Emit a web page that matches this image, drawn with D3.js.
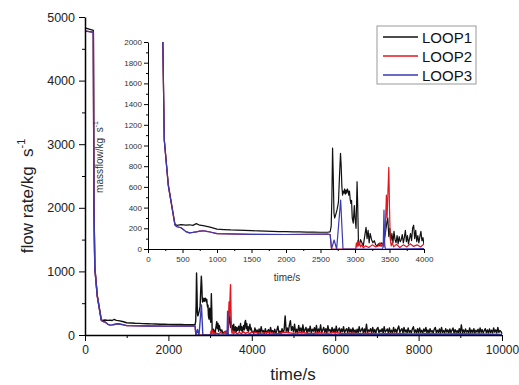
<!DOCTYPE html>
<html>
<head>
<meta charset="utf-8">
<script src="https://cdn.jsdelivr.net/npm/d3@7"></script>
<style>
  body { margin: 0; background: #fff; }
  svg { font-family: Arial, "Liberation Sans", sans-serif; }
  .axis path, .axis line { stroke: #000; }
</style>
</head>
<body>
<div id="chart"></div>
<script>
// LOOP1 mass flow [time s, flow kg/s], up to 4000 s
var loop1Head = [
  [0, 4830], [100, 4810], [200, 4790], [215, 2000], [236, 1060], [294, 625], [390, 242],
  [420, 228], [480, 236], [550, 230], [600, 234], [650, 228], [700, 245], [750, 230],
  [800, 226], [900, 212], [1000, 192], [1100, 188], [1200, 184], [1300, 182], [1400, 179],
  [1500, 177], [1600, 175], [1700, 172], [1800, 170], [1900, 168], [2000, 167], [2100, 166],
  [2200, 165], [2300, 164], [2400, 163], [2500, 162], [2600, 162], [2640, 165], [2655, 220],
  [2665, 500], [2675, 975], [2685, 700], [2695, 350], [2705, 300], [2720, 330], [2740, 380],
  [2760, 450], [2775, 700], [2790, 925], [2800, 800], [2810, 600], [2820, 520], [2830, 560],
  [2840, 540], [2850, 580], [2860, 530], [2870, 570], [2880, 540], [2890, 580], [2900, 560],
  [2910, 520], [2920, 560], [2930, 480], [2940, 440], [2950, 470], [2960, 300], [2975, 250],
  [2990, 420], [3000, 300], [3015, 200], [3030, 650], [3040, 400], [3050, 60], [3065, 40],
  [3080, 90], [3100, 60], [3120, 30], [3140, 120], [3160, 210], [3175, 100], [3190, 180],
  [3205, 60], [3220, 150], [3240, 90], [3260, 60], [3280, 80], [3300, 40], [3320, 30],
  [3340, 50], [3360, 30], [3380, 60], [3400, 40], [3420, 80], [3440, 150], [3460, 250],
  [3475, 300], [3490, 120], [3505, 200], [3520, 80], [3535, 150], [3550, 60], [3565, 170],
  [3580, 90], [3595, 60], [3610, 130], [3625, 50], [3640, 120], [3655, 70], [3670, 90],
  [3685, 140], [3700, 60], [3715, 110], [3730, 180], [3745, 70], [3760, 130], [3775, 50],
  [3790, 100], [3805, 150], [3820, 80], [3835, 200], [3850, 230], [3865, 100], [3880, 180],
  [3895, 70], [3910, 130], [3925, 60], [3940, 120], [3955, 170], [3970, 80], [3985, 110],
  [4000, 40]
];

// LOOP1 flow after 4000 s, read every 25 s (4025 ... 10000)
var loop1TailTime = d3.range(4025, 10001, 25);
var loop1TailFlow = [
  60, 25, 110, 40, 80, 20, 95, 35, 130, 45, 70, 20, 100, 30, 60, 85, 25, 120, 40, 70,
  30, 90, 20, 75, 140, 35, 60, 25, 100, 45, 80, 300, 60, 110, 40, 150, 225, 70, 130, 50,
  170, 40, 90, 30, 150, 60, 110, 35, 160, 45, 80, 120, 30, 100, 50, 140, 35, 90, 60, 115,
  40, 150, 30, 95, 55, 160, 35, 80, 120, 40, 100, 30, 145, 60, 85, 35, 120, 45, 95, 30,
  140, 40, 80, 110, 30, 95, 50, 130, 35, 75, 100, 30, 120, 45, 90, 35, 110, 40, 80, 30,
  90, 35, 130, 50, 75, 110, 30, 95, 40, 170, 35, 80, 60, 100, 30, 120, 40, 85, 30, 95,
  120, 35, 80, 50, 100, 30, 130, 45, 70, 95, 30, 110, 40, 75, 30, 120, 45, 90, 35, 100,
  140, 40, 75, 100, 30, 120, 45, 80, 35, 110, 40, 70, 30, 95, 130, 40, 80, 30, 100, 35,
  110, 40, 75, 30, 95, 50, 120, 35, 80, 30, 100, 45, 70, 30, 90, 120, 35, 75, 40, 95,
  30, 120, 40, 70, 30, 100, 45, 80, 30, 95, 35, 75, 110, 30, 85, 40, 70, 30, 100, 35,
  160, 40, 80, 30, 95, 45, 70, 30, 110, 35, 80, 40, 100, 30, 75, 45, 90, 30, 110, 40,
  85, 30, 70, 100, 35, 80, 30, 95, 40, 75, 30, 110, 45, 80, 30, 120, 40, 70, 55, 20
];

var loop1 = loop1Head.concat(loop1TailTime.map(function(t, i) {
  return [t, loop1TailFlow[i]];
}));

// LOOP2
var loop2 = [
  [0, 4780], [100, 4770], [200, 4760], [215, 2000], [236, 1050], [294, 612], [390, 232],
  [420, 215], [480, 205], [550, 168], [600, 156], [650, 160], [700, 166], [750, 172],
  [800, 176], [850, 170], [900, 164], [1000, 148], [1500, 142], [2000, 140], [2600, 145],
  [2640, 140], [2660, 0], [3010, 0], [3020, 60], [3030, 20], [3040, 80], [3050, 30],
  [3060, 70], [3080, 20], [3100, 40], [3120, 10], [3150, 30], [3200, 15], [3250, 40],
  [3300, 20], [3340, 30], [3360, 60], [3380, 25], [3400, 50], [3420, 20], [3440, 200],
  [3455, 520], [3465, 300], [3480, 600], [3490, 790], [3500, 400], [3510, 100], [3525, 30],
  [3540, 60], [3560, 20], [3600, 45], [3650, 15], [3700, 40], [3750, 20], [3800, 50],
  [3850, 25], [3900, 40], [3950, 20], [4000, 50], [4200, 25], [4400, 40], [4600, 20],
  [4800, 45], [5000, 25], [5200, 40], [5400, 20], [5600, 35], [5800, 25], [6000, 40],
  [6200, 20], [6400, 30], [6600, 20], [6800, 30], [7000, 15], [7400, 25], [7800, 15],
  [8200, 20], [8600, 15], [9000, 20], [9500, 15], [10000, 10]
];

// LOOP3
var loop3 = [
  [0, 4780], [100, 4770], [200, 4760], [215, 2000], [236, 1050], [294, 612], [390, 232],
  [420, 215], [480, 205], [550, 168], [600, 156], [650, 160], [700, 166], [750, 172],
  [800, 176], [850, 170], [900, 164], [1000, 148], [1500, 142], [2000, 140], [2600, 145],
  [2640, 140], [2660, 0], [2697, 87], [2734, 0], [2792, 473], [2826, 0], [3400, 0],
  [3410, 50], [3420, 375], [3430, 50], [3440, 0], [4000, 5], [5000, 10], [6000, 5],
  [7000, 10], [8000, 5], [9000, 10], [10000, 5]
];

var names = ["LOOP1", "LOOP2", "LOOP3"];
var colors = ["#111111", "#e3161e", "#3a3ab4"];
var series = [loop1, loop2, loop3];

var mainXTicks = [0, 2000, 4000, 6000, 8000, 10000];
var mainYTicks = [0, 1000, 2000, 3000, 4000, 5000];
var insetXTicks = [0, 500, 1000, 1500, 2000, 2500, 3000, 3500, 4000];
var insetYTicks = [0, 200, 400, 600, 800, 1000, 1200, 1400, 1600, 1800, 2000];

var width = 519;
var height = 385;
var fmt = d3.format("d");

var svg = d3.select("#chart").append("svg")
  .attr("width", width)
  .attr("height", height);

// main chart
var x = d3.scaleLinear().domain([0, 10000]).range([85, 502]);
var y = d3.scaleLinear().domain([0, 5000]).range([335, 17]);

var line = d3.line()
  .x(function(d) { return x(d[0]); })
  .y(function(d) { return y(d[1]); });

svg.selectAll(".main-line")
  .data(series)
  .enter()
  .append("path")
  .attr("class", "main-line")
  .attr("fill", "none")
  .attr("stroke", function(d, i) { return colors[i]; })
  .attr("stroke-width", 1.4)
  .attr("stroke-linejoin", "round")
  .attr("d", line);

var xMinor = svg.append("g")
  .attr("class", "axis")
  .attr("transform", "translate(0,335)")
  .call(d3.axisBottom(x).tickValues([1000, 3000, 5000, 7000, 9000]).tickSize(3).tickFormat(""));
xMinor.select(".domain").remove();
var xAxis = svg.append("g")
  .attr("class", "axis")
  .attr("transform", "translate(0,335)")
  .call(d3.axisBottom(x).tickValues(mainXTicks).tickFormat(fmt).tickSize(6).tickSizeOuter(0).tickPadding(4));
xAxis.select(".domain").attr("stroke-width", 1.5);
xAxis.selectAll("text").attr("font-size", 12).attr("fill", "#222");

var yMinor = svg.append("g")
  .attr("class", "axis")
  .attr("transform", "translate(85,0)")
  .call(d3.axisLeft(y).tickValues([500, 1500, 2500, 3500, 4500]).tickSize(3).tickFormat(""));
yMinor.select(".domain").remove();
var yAxis = svg.append("g")
  .attr("class", "axis")
  .attr("transform", "translate(85,0)")
  .call(d3.axisLeft(y).tickValues(mainYTicks).tickFormat(fmt).tickSize(6).tickSizeOuter(0).tickPadding(4));
yAxis.select(".domain").attr("stroke-width", 1.5);
yAxis.selectAll("text").attr("font-size", 12.5).attr("fill", "#222");

svg.append("text")
  .attr("x", 293)
  .attr("y", 380)
  .attr("text-anchor", "middle")
  .attr("font-size", 17)
  .attr("fill", "#222")
  .text("time/s");

var yLabel = svg.append("text")
  .attr("transform", "translate(33,196) rotate(-90)")
  .attr("text-anchor", "middle")
  .attr("font-size", 17)
  .attr("fill", "#222");
yLabel.append("tspan").text("flow rate/kg\u00a0\u00a0s");
yLabel.append("tspan").attr("font-size", 11).attr("dy", "-0.7em").text("-1");

// inset chart
var ix = d3.scaleLinear().domain([0, 4000]).range([148, 424]);
var iy = d3.scaleLinear().domain([0, 2000]).range([249, 42]);

svg.append("clipPath")
  .attr("id", "inset-clip")
  .append("rect")
  .attr("x", 148)
  .attr("y", 42)
  .attr("width", 276)
  .attr("height", 207);

var insetLine = d3.line()
  .x(function(d) { return ix(d[0]); })
  .y(function(d) { return iy(d[1]); });

svg.append("g")
  .attr("clip-path", "url(#inset-clip)")
  .selectAll("path")
  .data(series)
  .enter()
  .append("path")
  .attr("fill", "none")
  .attr("stroke", function(d, i) { return colors[i]; })
  .attr("stroke-width", 1.2)
  .attr("stroke-linejoin", "round")
  .attr("d", function(d) {
    return insetLine(d.filter(function(p) { return p[0] <= 4000; }));
  });

var ixMinor = svg.append("g")
  .attr("class", "axis")
  .attr("transform", "translate(0,249)")
  .call(d3.axisBottom(ix).tickValues([250, 750, 1250, 1750, 2250, 2750, 3250, 3750]).tickSize(2).tickFormat(""));
ixMinor.select(".domain").remove();
var ixAxis = svg.append("g")
  .attr("class", "axis")
  .attr("transform", "translate(0,249)")
  .call(d3.axisBottom(ix).tickValues(insetXTicks).tickFormat(fmt).tickSize(4).tickSizeOuter(0).tickPadding(3));
ixAxis.selectAll("text").attr("font-size", 8).attr("fill", "#333");

var iyMinor = svg.append("g")
  .attr("class", "axis")
  .attr("transform", "translate(148,0)")
  .call(d3.axisLeft(iy).tickValues(d3.range(100, 2000, 200)).tickSize(2).tickFormat(""));
iyMinor.select(".domain").remove();
var iyAxis = svg.append("g")
  .attr("class", "axis")
  .attr("transform", "translate(148,0)")
  .call(d3.axisLeft(iy).tickValues(insetYTicks).tickFormat(fmt).tickSize(4).tickSizeOuter(0).tickPadding(2));
iyAxis.selectAll("text").attr("font-size", 8).attr("fill", "#333");

svg.append("text")
  .attr("x", 287)
  .attr("y", 281)
  .attr("text-anchor", "middle")
  .attr("font-size", 10)
  .attr("fill", "#333")
  .text("time/s");

var iyLabel = svg.append("text")
  .attr("transform", "translate(103,157) rotate(-90)")
  .attr("text-anchor", "middle")
  .attr("font-size", 10)
  .attr("fill", "#333");
iyLabel.append("tspan").text("massflow/kg\u00a0\u00a0s");
iyLabel.append("tspan").attr("font-size", 7).attr("dy", "-0.7em").text("-1");

// legend
var legend = svg.append("g").attr("transform", "translate(377,26)");
legend.append("rect")
  .attr("width", 99)
  .attr("height", 58)
  .attr("fill", "#fff")
  .attr("stroke", "#999")
  .attr("stroke-width", 1);

var legendItem = legend.selectAll(".legend-item")
  .data(names)
  .enter()
  .append("g")
  .attr("class", "legend-item")
  .attr("transform", function(d, i) { return "translate(0," + (11 + i * 19) + ")"; });

legendItem.append("line")
  .attr("x1", 6)
  .attr("x2", 41)
  .attr("stroke", function(d, i) { return colors[i]; })
  .attr("stroke-width", 1.5);

legendItem.append("text")
  .attr("x", 45)
  .attr("y", 5.5)
  .attr("font-size", 15)
  .attr("fill", "#111")
  .text(function(d) { return d; });
</script>
</body>
</html>
